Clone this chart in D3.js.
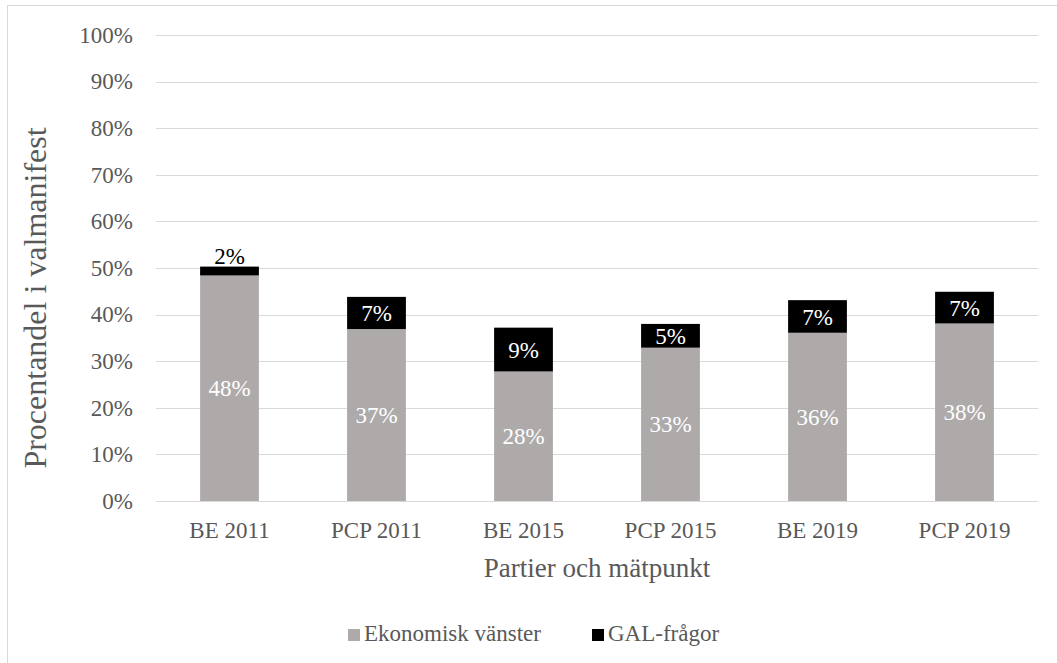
<!DOCTYPE html>
<html><head><meta charset="utf-8">
<script src="https://cdn.jsdelivr.net/npm/d3@7"></script>
<style>body{margin:0;background:#fff}svg{display:block}svg text{font-family:"Liberation Serif","Times New Roman",serif !important}</style>
</head><body><svg id="c" width="1057" height="663"></svg>
<script>
const categories = ["BE 2011","PCP 2011","BE 2015","PCP 2015","BE 2019","PCP 2019"];
const ekonomisk = [48.4, 36.9, 27.8, 32.9, 36.1, 38.1];
const gal = [1.9, 6.9, 9.4, 5.1, 7.0, 6.8];
const ekLabels = ["48%","37%","28%","33%","36%","38%"];
const galLabels = ["2%","7%","9%","5%","7%","7%"];
const yTicks = [0,10,20,30,40,50,60,70,80,90,100];
const seriesNames = ["Ekonomisk vänster","GAL-frågor"];
const colors = ["#AEAAAA","#000000"];

const FONT = "'Liberation Serif','Times New Roman',serif";
const svg = d3.select("#c");
svg.append("rect").attr("x",7.5).attr("y",5.5).attr("width",1100).attr("height",700)
  .attr("fill","none").attr("stroke","#D9D9D9").attr("stroke-width",1);

const x = d3.scaleBand().domain(categories).range([156,1038]).paddingInner(0.6).paddingOuter(0.3);
const y = d3.scaleLinear().domain([0,100]).range([501,35]);

// gridlines
svg.append("g").selectAll("line").data(yTicks).join("line")
  .attr("x1",156).attr("x2",1038).attr("y1",d=>Math.round(y(d))+0.5).attr("y2",d=>Math.round(y(d))+0.5)
  .attr("stroke","#D9D9D9").attr("stroke-width",1);

// y axis labels
const yAxis = d3.axisLeft(y).tickValues(yTicks).tickFormat(d=>d+"%").tickSize(0).tickPadding(0);
const gy = svg.append("g").attr("transform","translate(133,0)").call(yAxis)
  .attr("font-family",FONT).attr("font-size",23);
gy.select(".domain").remove();
gy.selectAll("text").style("font-family",FONT).style("font-size","23px").attr("fill","#595959");

// x axis labels
const xAxis = d3.axisBottom(x).tickSize(0).tickPadding(0);
const gx = svg.append("g").attr("transform","translate(0,501)").call(xAxis)
  .attr("font-family",FONT).attr("font-size",23);
gx.select(".domain").remove();
gx.selectAll("text").style("font-family",FONT).style("font-size","23px").attr("fill","#595959")
  .attr("dy",null).attr("y",37);

// stack
const rows = categories.map((c,i)=>({cat:c, ek:ekonomisk[i], gal:gal[i], ekL:ekLabels[i], galL:galLabels[i]}));
const stack = d3.stack().keys(["ek","gal"])(rows);
stack.forEach((s,si)=>{
  svg.append("g").selectAll("rect").data(s).join("rect")
    .attr("x",d=>x(d.data.cat)).attr("width",x.bandwidth())
    .attr("y",d=>y(d[1])).attr("height",d=>y(d[0])-y(d[1]))
    .attr("fill",colors[si]);
});
// labels
svg.append("g").selectAll("text").data(stack[0]).join("text")
  .attr("x",d=>x(d.data.cat)+x.bandwidth()/2).attr("y",d=>(y(d[0])+y(d[1]))/2).attr("dy","0.35em")
  .attr("text-anchor","middle").style("font-family",FONT).style("font-size","23px").attr("fill","#fff").text(d=>d.data.ekL);
svg.append("g").selectAll("text").data(stack[1]).join("text")
  .attr("x",d=>x(d.data.cat)+x.bandwidth()/2)
  .attr("y",d=> (d[1]-d[0])<3 ? y(d[1])-11 : (y(d[0])+y(d[1]))/2)
  .attr("dy","0.35em")
  .attr("text-anchor","middle").style("font-family",FONT).style("font-size","23px")
  .attr("fill",d=>(d[1]-d[0])<3?"#000":"#fff").text(d=>d.data.galL);

// axis titles
svg.append("text").attr("x",597).attr("y",577).attr("text-anchor","middle")
  .style("font-family",FONT).style("font-size","27px")
  .attr("fill","#595959").text("Partier och mätpunkt");
svg.append("text").attr("transform","translate(46,298) rotate(-90)").attr("text-anchor","middle")
  .style("font-family",FONT).style("font-size","32px")
  .attr("fill","#595959").text("Procentandel i valmanifest");

// legend
const legX = [348,592];
seriesNames.forEach((n,i)=>{
  svg.append("rect").attr("x",legX[i]).attr("y",629).attr("width",12).attr("height",12).attr("fill",colors[i]);
  svg.append("text").attr("x",legX[i]+16).attr("y",641).style("font-family",FONT).style("font-size","23px")
    .attr("fill","#595959").text(n);
});
</script></body></html>
